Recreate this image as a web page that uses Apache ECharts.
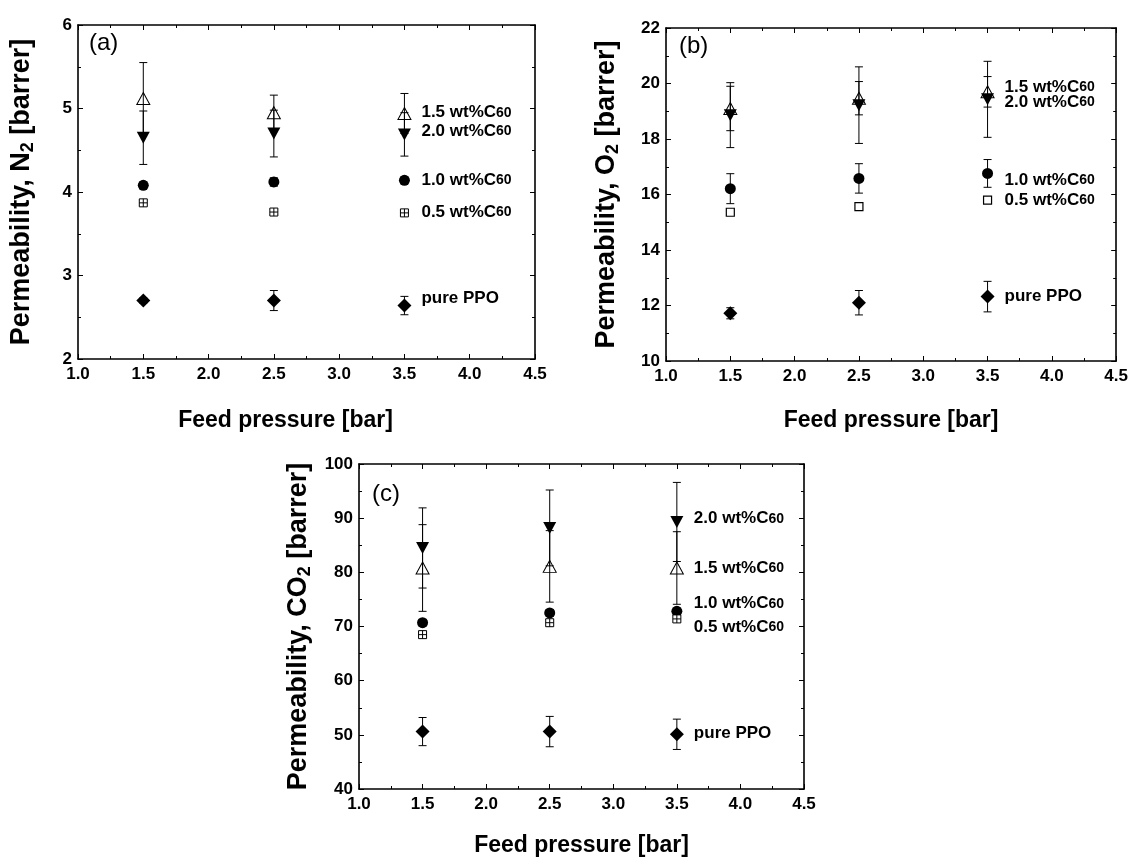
<!DOCTYPE html>
<html>
<head>
<meta charset="utf-8">
<script src="https://cdn.jsdelivr.net/npm/echarts@6/dist/echarts.min.js"></script>
<style>html,body{margin:0;padding:0;background:#fff}#chart{width:1131px;height:864px}</style>
</head>
<body>
<div id="chart"></div>
<script>
// ---------- data ----------
const pressure = [1.5, 2.5, 3.5];
const xTickLabels = ['1.0','1.5','2.0','2.5','3.0','3.5','4.0','4.5'];

// Panel (a) N2 permeability [barrer]
const n2Pure = [2.70, 2.70, 2.64];  const n2PureErr = [0.03, 0.12, 0.11];
const n2C05  = [3.87, 3.76, 3.75];  const n2C05Err  = [0.03, 0.03, 0.03];
const n2C10  = [4.08, 4.12, 4.14];  const n2C10Err  = [0.04, 0.05, 0.04];
const n2C15  = [5.12, 4.95, 4.94];  const n2C15Err  = [0.43, 0.21, 0.24];
const n2C20  = [4.65, 4.70, 4.69];  const n2C20Err  = [0.32, 0.28, 0.26];

// Panel (b) O2 permeability [barrer]
const o2Pure = [11.72, 12.10, 12.32]; const o2PureErr = [0.20, 0.44, 0.55];
const o2C05  = [15.36, 15.56, 15.80]; const o2C05Err  = [0.08, 0.05, 0.08];
const o2C10  = [16.21, 16.58, 16.76]; const o2C10Err  = [0.54, 0.53, 0.50];
const o2C15  = [19.10, 19.47, 19.70]; const o2C15Err  = [0.80, 0.60, 0.55];
const o2C20  = [18.86, 19.22, 19.43]; const o2C20Err  = [1.17, 1.38, 1.37];

// Panel (c) CO2 permeability [barrer]
const co2Pure = [50.6, 50.6, 50.1]; const co2PureErr = [2.6, 2.8, 2.8];
const co2C05  = [68.5, 70.7, 71.4]; const co2C05Err  = [0.6, 0.6, 0.6];
const co2C10  = [70.7, 72.5, 72.8]; const co2C10Err  = [0.6, 0.6, 0.6];
const co2C15  = [80.8, 81.1, 80.8]; const co2C15Err  = [8.0, 6.6, 6.7];
const co2C20  = [84.5, 88.2, 89.3]; const co2C20Err  = [7.4, 7.0, 7.3];

// in-plot labels (text, y position at x = 3.5)
const labelTextA = ['1.5 wt%C60', '2.0 wt%C60', '1.0 wt%C60', '0.5 wt%C60', 'pure PPO'];
const labelYA    = [4.95, 4.73, 4.14, 3.76, 2.73];
const labelTextB = ['1.5 wt%C60', '2.0 wt%C60', '1.0 wt%C60', '0.5 wt%C60', 'pure PPO'];
const labelYB    = [19.87, 19.33, 16.52, 15.80, 12.34];
const labelTextC = ['2.0 wt%C60', '1.5 wt%C60', '1.0 wt%C60', '0.5 wt%C60', 'pure PPO'];
const labelYC    = [89.9, 80.8, 74.2, 69.9, 50.2];

// ---------- styling ----------
const FONT = "'Liberation Sans', Arial, sans-serif";
const panels = [
  {grid:{left:78, top:25, width:457, height:334}, y:{min:2, max:6, interval:1},
   yName:'{b|Permeability, N}{s|2}{b| [barrer]}', yGap:41, xGap:50, xPad:[0,42,0,0], tag:'(a)', tagPos:[84, 26],
   sets:[[n2C15,n2C15Err,'up'],[n2C20,n2C20Err,'down'],[n2C10,n2C10Err,'circle'],[n2C05,n2C05Err,'square'],[n2Pure,n2PureErr,'diamond']],
   labels:[labelTextA,labelYA]},
  {grid:{left:666, top:28, width:451, height:333}, y:{min:10, max:22, interval:2},
   yName:'{b|Permeability, O}{s|2}{b| [barrer]}', yGap:44, xGap:48, xPad:[0,0,0,0], tag:'(b)', tagPos:[674, 29],
   sets:[[o2C15,o2C15Err,'up'],[o2C20,o2C20Err,'down'],[o2C10,o2C10Err,'circle'],[o2C05,o2C05Err,'squareOpen'],[o2Pure,o2PureErr,'diamond']],
   labels:[labelTextB,labelYB]},
  {grid:{left:359, top:464, width:445, height:325}, y:{min:40, max:100, interval:10},
   yName:'{b|Permeability, CO}{s|2}{b| [barrer]}', yGap:45, xGap:45, xPad:[0,0,0,0], tag:'(c)', tagPos:[367, 477],
   sets:[[co2C15,co2C15Err,'up'],[co2C20,co2C20Err,'down'],[co2C10,co2C10Err,'circle'],[co2C05,co2C05Err,'square'],[co2Pure,co2PureErr,'diamond']],
   labels:[labelTextC,labelYC]}
];

const symbolStyles = {
  up:        {symbol:'triangle', symbolSize:[13,12], symbolRotate:0, itemStyle:{color:'rgba(255,255,255,0)', borderColor:'#000', borderWidth:1, opacity:1}},
  down:      {symbol:'triangle', symbolSize:[13,12], symbolRotate:180, itemStyle:{color:'#000', opacity:1}},
  circle:    {symbol:'circle', symbolSize:11, symbolRotate:0, itemStyle:{color:'#000', opacity:1}},
  square:    {symbol:'path://M0,0L10,0L10,10L0,10Z M5,0L5,10 M0,5L10,5', symbolSize:8, symbolRotate:0, itemStyle:{color:'#fff', borderColor:'#000', borderWidth:1, opacity:1}},
  squareOpen:{symbol:'rect', symbolSize:8, symbolRotate:0, itemStyle:{color:'#fff', borderColor:'#000', borderWidth:1.2, opacity:1}},
  diamond:   {symbol:'path://M5,0L10,5L5,10L0,5Z', symbolSize:14, symbolRotate:0, itemStyle:{color:'#000', opacity:1}}
};

function errRender(params, api) {
  const x = api.value(0), y = api.value(1), e = api.value(2);
  const t = api.coord([x, y + e]);
  const b = api.coord([x, y - e]);
  const w = 4;
  const st = {stroke:'#000', lineWidth:1};
  return {type:'group', children:[
    {type:'line', shape:{x1:t[0], y1:t[1], x2:b[0], y2:b[1]}, style:st},
    {type:'line', shape:{x1:t[0]-w, y1:t[1], x2:t[0]+w, y2:t[1]}, style:st},
    {type:'line', shape:{x1:b[0]-w, y1:b[1], x2:b[0]+w, y2:b[1]}, style:st}
  ]};
}

const tickLabelStyle = {fontFamily:FONT, fontWeight:'bold', fontSize:17, color:'#000'};
const axisLineStyle = {lineStyle:{color:'#000', width:1.6}};

const grids=[], xAxes=[], yAxes=[], series=[], titles=[];
panels.forEach((p, i) => {
  grids.push(p.grid);
  const xi = xAxes.length, yi = yAxes.length;
  xAxes.push({type:'value', gridIndex:i, position:'bottom', min:1, max:4.5, interval:0.5,
    axisLine:axisLineStyle, splitLine:{show:false},
    axisTick:{inside:true, length:5, lineStyle:{color:'#000', width:1}},
    minorTick:{show:true, splitNumber:2, length:3, lineStyle:{color:'#000', width:1}},
    axisLabel:{...tickLabelStyle, margin:7, formatter:(v)=>xTickLabels[Math.round((v-1)/0.5)]},
    name:'Feed pressure [bar]', nameLocation:'middle', nameGap:p.xGap,
    nameTextStyle:{fontFamily:FONT, fontWeight:'bold', fontSize:23, color:'#000', padding:p.xPad}});
  xAxes.push({type:'value', gridIndex:i, position:'top', min:1, max:4.5, interval:0.5,
    axisLine:axisLineStyle, splitLine:{show:false},
    axisTick:{inside:true, length:5, lineStyle:{color:'#000', width:1}},
    minorTick:{show:true, splitNumber:2, length:3, lineStyle:{color:'#000', width:1}},
    axisLabel:{show:false}});
  yAxes.push({type:'value', gridIndex:i, position:'left', min:p.y.min, max:p.y.max, interval:p.y.interval,
    axisLine:axisLineStyle, splitLine:{show:false},
    axisTick:{inside:true, length:5, lineStyle:{color:'#000', width:1}},
    minorTick:{show:true, splitNumber:2, length:3, lineStyle:{color:'#000', width:1}},
    axisLabel:{...tickLabelStyle, margin:6},
    name:p.yName, nameLocation:'middle', nameGap:p.yGap,
    nameTextStyle:{rich:{
      b:{fontFamily:FONT, fontWeight:'bold', fontSize:27, color:'#000'},
      s:{fontFamily:FONT, fontWeight:'bold', fontSize:18, color:'#000', padding:[12,0,0,0]}
    }}});
  yAxes.push({type:'value', gridIndex:i, position:'right', min:p.y.min, max:p.y.max, interval:p.y.interval,
    axisLine:axisLineStyle, splitLine:{show:false},
    axisTick:{inside:true, length:5, lineStyle:{color:'#000', width:1}},
    minorTick:{show:true, splitNumber:2, length:3, lineStyle:{color:'#000', width:1}},
    axisLabel:{show:false}});

  p.sets.forEach(([vals, errs, kind]) => {
    series.push({type:'custom', xAxisIndex:xi, yAxisIndex:yi, renderItem:errRender,
      encode:{x:0, y:1}, z:2, silent:true,
      data: pressure.map((x, k) => [x, vals[k], errs[k]])});
    const s = symbolStyles[kind];
    series.push({type:'scatter', xAxisIndex:xi, yAxisIndex:yi, z:3, silent:true,
      symbol:s.symbol, symbolSize:s.symbolSize, symbolRotate:s.symbolRotate, itemStyle:s.itemStyle,
      data: pressure.map((x, k) => [x, vals[k]])});
  });

  const [texts, ys] = p.labels;
  series.push({type:'scatter', xAxisIndex:xi, yAxisIndex:yi, z:4, silent:true,
    symbolSize:0, itemStyle:{opacity:1},
    label:{show:true, position:'right', distance:17,
      formatter:(d)=>{
        const t = d.data[2];
        const m = t.match(/^(.*C)60$/);
        return m ? '{m|' + m[1] + '}{s|60}' : '{m|' + t + '}';
      },
      rich:{
        m:{fontFamily:FONT, fontWeight:'bold', fontSize:17, color:'#000'},
        s:{fontFamily:FONT, fontWeight:'bold', fontSize:14, color:'#000'}
      }},
    data: texts.map((t, k) => [3.5, ys[k], t])});

  titles.push({text:p.tag, left:p.tagPos[0], top:p.tagPos[1],
    textStyle:{fontFamily:FONT, fontWeight:'normal', fontSize:24, color:'#000'}});
});

const chart = echarts.init(document.getElementById('chart'), null, {renderer:'canvas'});
chart.setOption({
  animation:false,
  backgroundColor:'#fff',
  title:titles,
  grid:grids,
  xAxis:xAxes,
  yAxis:yAxes,
  series:series
});
</script>
</body>
</html>
